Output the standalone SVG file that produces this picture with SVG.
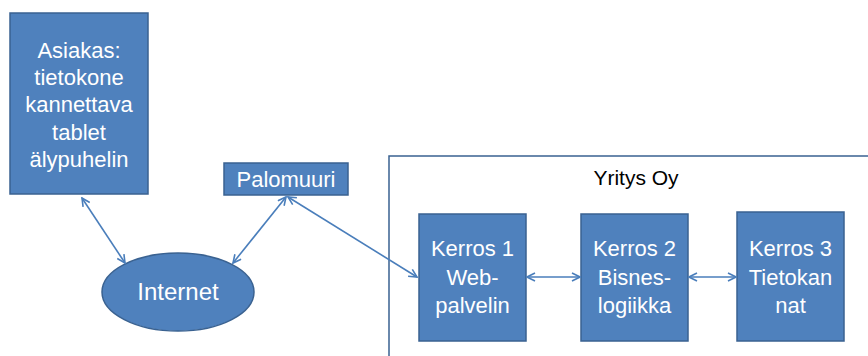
<svg xmlns="http://www.w3.org/2000/svg" width="868" height="356" viewBox="0 0 868 356">
  <style>
    .node { fill: #4F81BD; stroke: #3A6291; stroke-width: 1.5; }
    .lbl { font-family: "Liberation Sans", Arial, sans-serif; font-size: 22px; fill: #ffffff; text-anchor: middle; }
    .title { font-family: "Liberation Sans", Arial, sans-serif; font-size: 21px; fill: #000000; text-anchor: middle; }
    .edge { stroke: #4A7EBB; stroke-width: 1.6; fill: none; marker-start: url(#arr); marker-end: url(#arr); }
  </style>
  <defs>
    <marker id="arr" viewBox="0 0 10 10" refX="9" refY="5" markerWidth="10" markerHeight="10" markerUnits="userSpaceOnUse" orient="auto-start-reverse">
      <path d="M1,1 L9,5 L1,9" fill="none" stroke="#4A7EBB" stroke-width="1.6"/>
    </marker>
  </defs>
  <rect width="868" height="356" fill="#ffffff"/>

  <!-- company boundary -->
  <g id="yritys">
    <path d="M389,360 L389,156 L872,156" fill="none" stroke="#3A6291" stroke-width="1.5"/>
    <text class="title" x="636" y="185">Yritys Oy</text>
  </g>

  <g id="asiakas">
    <rect class="node" x="10" y="13" width="138" height="181"/>
    <text class="lbl" x="79" y="58">Asiakas:</text>
    <text class="lbl" x="79" y="85">tietokone</text>
    <text class="lbl" x="79" y="112">kannettava</text>
    <text class="lbl" x="79" y="140">tablet</text>
    <text class="lbl" x="79" y="167">älypuhelin</text>
  </g>

  <g id="palomuuri">
    <rect class="node" x="224" y="163" width="124" height="32"/>
    <text class="lbl" x="286" y="187">Palomuuri</text>
  </g>

  <g id="internet">
    <ellipse class="node" cx="178" cy="292" rx="76" ry="39"/>
    <text class="lbl" x="178" y="300" style="font-size:24px">Internet</text>
  </g>

  <g id="kerros1">
    <rect class="node" x="419" y="214" width="107" height="127"/>
    <text class="lbl" x="472.5" y="256">Kerros 1</text>
    <text class="lbl" x="472.5" y="285">Web-</text>
    <text class="lbl" x="472.5" y="313">palvelin</text>
  </g>

  <g id="kerros2">
    <rect class="node" x="581" y="214" width="107" height="127"/>
    <text class="lbl" x="634.5" y="256">Kerros 2</text>
    <text class="lbl" x="634.5" y="285">Bisnes-</text>
    <text class="lbl" x="634.5" y="313">logiikka</text>
  </g>

  <g id="kerros3">
    <rect class="node" x="737" y="212" width="107" height="129"/>
    <text class="lbl" x="790.5" y="256">Kerros 3</text>
    <text class="lbl" x="790.5" y="285">Tietokan</text>
    <text class="lbl" x="790.5" y="313">nat</text>
  </g>

  <g id="connectors">
    <line class="edge" x1="82" y1="198" x2="125" y2="263"/>
    <line class="edge" x1="233" y1="263" x2="286" y2="197"/>
    <line class="edge" x1="288" y1="197" x2="417" y2="277"/>
    <line class="edge" x1="527" y1="277" x2="580" y2="277"/>
    <line class="edge" x1="689" y1="277" x2="736" y2="277"/>
  </g>
</svg>
